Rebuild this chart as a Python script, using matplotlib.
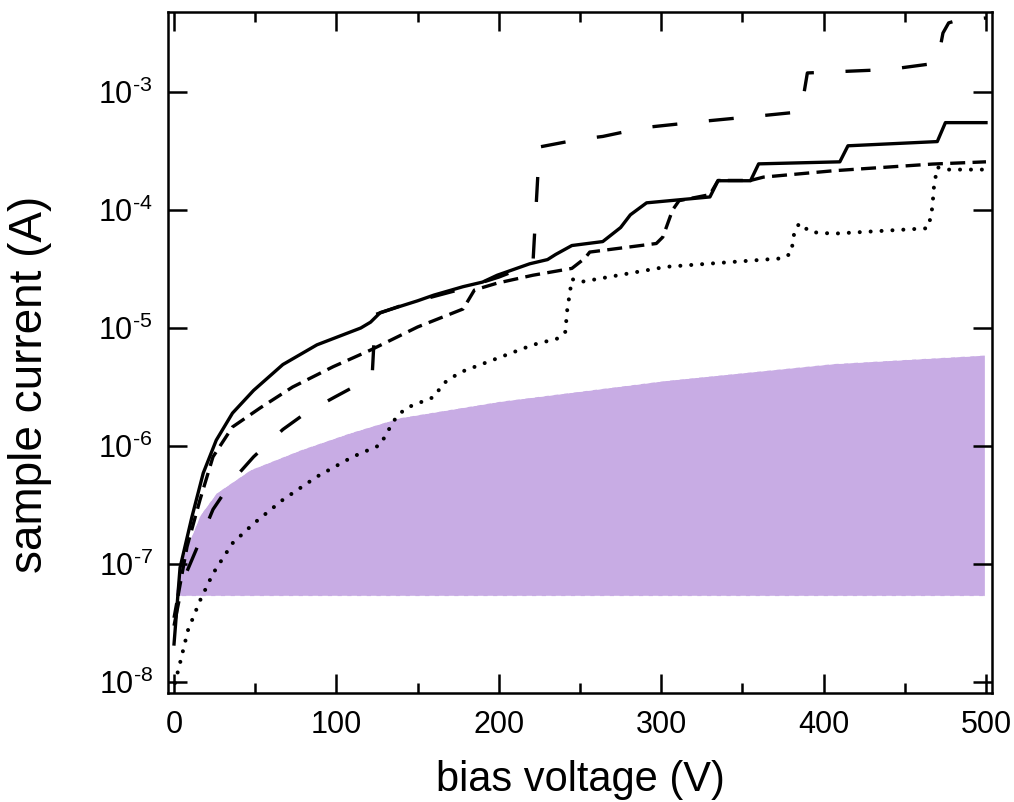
import numpy as np
import matplotlib
matplotlib.use("Agg")
import matplotlib.pyplot as plt
from matplotlib.ticker import LogLocator, MultipleLocator, NullLocator, FuncFormatter

plt.rcParams['font.family'] = ['Liberation Sans', 'DejaVu Sans']
plt.rcParams['mathtext.fontset'] = 'custom'
plt.rcParams['mathtext.rm'] = 'Liberation Sans'
plt.rcParams['mathtext.it'] = 'Liberation Sans:italic'
plt.rcParams['mathtext.bf'] = 'Liberation Sans:bold'

# --- data (bias in V, current in A) ---
solid_v = [0, 3.7, 11, 18, 26, 36, 49, 67, 88, 115, 121, 127, 150, 160, 178,
           190, 199, 219, 230, 235, 245, 264, 275, 281, 291, 330, 335, 355,
           360, 410, 415, 470, 475, 500]
solid_i = [2.1e-8, 9.3e-8, 2.5e-7, 5.9e-7, 1.12e-6, 1.9e-6, 2.96e-6, 4.9e-6,
           7.2e-6, 1.0e-5, 1.12e-5, 1.35e-5, 1.7e-5, 1.9e-5, 2.24e-5, 2.45e-5,
           2.8e-5, 3.5e-5, 3.8e-5, 4.2e-5, 5.0e-5, 5.4e-5, 7.1e-5, 9.1e-5,
           1.15e-4, 1.29e-4, 1.77e-4, 1.77e-4, 2.46e-4, 2.56e-4, 3.5e-4,
           3.8e-4, 5.5e-4, 5.5e-4]

short_v = [0, 8, 16, 24, 36, 53, 73, 98, 121, 150, 178, 185, 199, 221, 245,
           253, 256, 297, 301, 307, 311, 330, 335, 355, 363, 406, 427, 467, 500]
short_i = [3.5e-8, 1.4e-7, 3.5e-7, 8.1e-7, 1.45e-6, 2.1e-6, 3.16e-6, 4.7e-6,
           6.5e-6, 1.02e-5, 1.45e-5, 2.1e-5, 2.4e-5, 2.8e-5, 3.2e-5, 3.9e-5,
           4.4e-5, 5.2e-5, 5.9e-5, 1.0e-4, 1.2e-4, 1.35e-4, 1.78e-4, 1.78e-4,
           1.9e-4, 2.15e-4, 2.25e-4, 2.45e-4, 2.56e-4]

long_v = [0, 5.5, 17, 24, 36, 49, 67, 81, 99, 113, 122, 124, 140, 150, 175,
          200, 221, 225, 250, 264, 290, 329, 362, 386, 390, 440, 470, 473.5,
          477, 481, 500]
long_i = [3.0e-8, 7.2e-8, 1.7e-7, 2.9e-7, 5.1e-7, 8.1e-7, 1.38e-6, 1.9e-6,
          2.6e-6, 3.3e-6, 3.9e-6, 1.3e-5, 1.55e-5, 1.7e-5, 2.1e-5, 2.7e-5,
          3.5e-5, 3.42e-4, 3.98e-4, 4.2e-4, 5.0e-4, 5.7e-4, 6.3e-4, 6.8e-4,
          1.45e-3, 1.55e-3, 1.76e-3, 3.16e-3, 3.85e-3, 4.0e-3, 4.24e-3]

dot_v = [0.6, 3.7, 8.6, 16, 24, 36, 49, 67, 88, 110, 127, 131, 137, 143, 160,
         166, 176, 197, 221, 237, 241, 242, 244, 245, 250, 303, 375, 380, 382,
         385, 392, 406, 464, 466, 467, 468, 470, 476, 500]
dot_i = [9.8e-9, 1.45e-8, 2.75e-8, 4.9e-8, 8.3e-8, 1.5e-7, 2.2e-7, 3.5e-7,
         5.5e-7, 8.1e-7, 1.02e-6, 1.29e-6, 1.77e-6, 2.1e-6, 2.6e-6, 3.4e-6,
         4.2e-6, 5.4e-6, 7.2e-6, 8.2e-6, 9.3e-6, 1.38e-5, 2.1e-5, 2.6e-5,
         2.45e-5, 3.3e-5, 3.9e-5, 4.3e-5, 6.5e-5, 7.7e-5, 6.5e-5, 6.3e-5,
         7.0e-5, 8.7e-5, 1.07e-4, 1.6e-4, 2.3e-4, 2.2e-4, 2.2e-4]

# shaded band
band_v = [1, 4, 8, 16, 26, 47, 78, 108, 139, 201, 303, 406, 459, 499]
band_top = [6e-8, 1e-7, 1.4e-7, 2.6e-7, 4.0e-7, 6.3e-7, 9.3e-7, 1.29e-6,
            1.74e-6, 2.4e-6, 3.6e-6, 5.0e-6, 5.5e-6, 5.9e-6]
band_floor = 5.4e-8

purple = '#c8ace4'

fig = plt.figure(figsize=(10.14, 8.02), dpi=100)
ax = fig.add_axes([0.1657, 0.1359, 0.8126, 0.8491])

ax.fill_between(band_v, band_floor, band_top, color=purple, lw=0, zorder=1)
ax.plot(band_v, band_top, color='white', lw=1, ls=(0, (4, 3)), zorder=1.5)
ax.plot([band_v[0], band_v[-1]], [band_floor, band_floor], color='white',
        lw=1, ls=(0, (4, 3)), zorder=1.5)

lw = 2.4
ax.plot(dot_v, dot_i, color='black', lw=2.9, ls=(0, (0.01, 2.7)),
        dash_capstyle='round', zorder=3)
ax.plot(long_v, long_i, color='black', lw=lw, ls=(0, (7.5, 9.5)), zorder=3)
ax.plot(short_v, short_i, color='black', lw=lw, ls=(0, (4.5, 2.2)), zorder=3)
ax.plot(solid_v, solid_i, color='black', lw=lw, solid_joinstyle='round', zorder=4)

ax.set_yscale('log')
ax.set_xlim(-3.7, 503.7)
ax.set_ylim(8.07e-9, 4.76e-3)

ax.xaxis.set_major_locator(MultipleLocator(100))
ax.xaxis.set_minor_locator(MultipleLocator(50))
ax.yaxis.set_major_locator(LogLocator(base=10, numticks=20))
ax.yaxis.set_minor_locator(NullLocator())


def exp_fmt(val, pos):
    e = int(round(np.log10(val)))
    return r'$\mathregular{10^{\text{-}%d}}$' % (-e)


ax.yaxis.set_major_formatter(FuncFormatter(exp_fmt))

for s in ax.spines.values():
    s.set_linewidth(1.8)
ax.tick_params(which='major', direction='in', length=13.7, width=1.8,
               top=True, right=True, labelsize=22)
ax.tick_params(which='minor', direction='in', length=7.2, width=1.8,
               top=True, right=True)
ax.tick_params(axis='x', pad=12)
ax.tick_params(axis='y', pad=11)

ax.set_xlabel('bias voltage (V)', fontsize=30)
ax.set_ylabel('sample current (A)', fontsize=33)
ax.xaxis.set_label_coords(0.5, -0.098)
ax.yaxis.set_label_coords(-0.1408, 0.4537)

fig.savefig('out.png', dpi=100)
